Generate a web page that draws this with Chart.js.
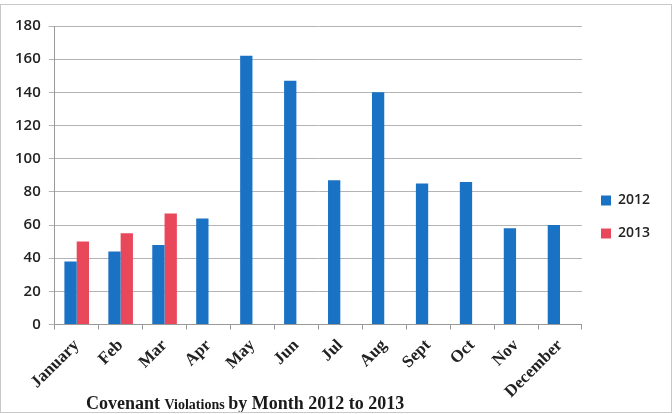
<!DOCTYPE html>
<html>
<head>
<meta charset="utf-8">
<script src="https://cdn.jsdelivr.net/npm/chart.js@4/dist/chart.umd.min.js"></script>
<style>
  body { margin: 0; background: #fff; }
  #wrap { position: relative; width: 672px; height: 414px; }
  #frame { position: absolute; left: 0; top: 4px; width: 670px; height: 407px;
           border: 1px solid #c8c8c8; pointer-events: none; }
</style>
</head>
<body>
<div id="wrap">
  <canvas id="violChart" width="672" height="414"></canvas>
  <div id="frame"></div>
</div>
<script>
// months and counts
var months = ["January", "Feb", "Mar", "Apr", "May", "Jun", "Jul", "Aug", "Sept", "Oct", "Nov", "December"];
var v2012 = [38, 44, 48, 64, 162, 147, 87, 140, 85, 86, 58, 60];
var v2013 = [50, 55, 67, null, null, null, null, null, null, null, null, null];
var yTicks = [0, 20, 40, 60, 80, 100, 120, 140, 160, 180];

// title has a smaller middle word, so draw it in pieces
var bottomTitle = {
  id: 'bottomTitle',
  afterDraw: function(chart) {
    var ctx = chart.ctx;
    var parts = [
      { t: "Covenant ", s: 18 },
      { t: "Violations ", s: 14 },
      { t: "by Month 2012 to 2013", s: 18 }
    ];
    var x = 86, y = 409;
    ctx.save();
    ctx.fillStyle = "#1a1a1a";
    ctx.textBaseline = "alphabetic";
    parts.forEach(function(p) {
      ctx.font = "bold " + p.s + "px 'Liberation Serif', serif";
      ctx.fillText(p.t, x, y);
      x += ctx.measureText(p.t).width;
    });
    ctx.restore();
  }
};

new Chart(document.getElementById("violChart"), {
  type: 'bar',
  data: {
    labels: months,
    datasets: [
      {
        label: "2012",
        data: v2012,
        backgroundColor: "#1a72c4",
        categoryPercentage: 0.56,
        barPercentage: 1.0
      },
      {
        label: "2013",
        data: v2013,
        backgroundColor: "#e9485a",
        categoryPercentage: 0.56,
        barPercentage: 1.0
      }
    ]
  },
  options: {
    responsive: false,
    animation: false,
    layout: { padding: { left: 7, right: 12, top: 26, bottom: 6 } },
    plugins: {
      legend: {
        position: 'right',
        labels: {
          boxWidth: 10,
          boxHeight: 10,
          padding: 19,
          color: "#222",
          font: { family: "'Open Sans', sans-serif", size: 14, weight: '600' }
        }
      },
      title: { display: false },
      tooltip: { enabled: false }
    },
    scales: {
      x: {
        grid: { display: true, drawOnChartArea: false, tickLength: 5, color: "#999" },
        border: { color: "#999" },
        ticks: {
          minRotation: 45,
          maxRotation: 45,
          autoSkip: false,
          padding: 6,
          color: "#222",
          font: { family: "'Liberation Serif', serif", size: 17, weight: 'bold' }
        }
      },
      y: {
        min: 0,
        max: 180,
        afterBuildTicks: function(axis) {
          axis.ticks = yTicks.map(function(v) { return { value: v }; });
        },
        grid: { color: "#b4b4b4", tickLength: 6 },
        border: { color: "#999" },
        ticks: {
          padding: 8,
          color: "#222",
          font: { family: "'Open Sans', sans-serif", size: 15, weight: '600' }
        }
      }
    }
  },
  plugins: [bottomTitle]
});
</script>
</body>
</html>
